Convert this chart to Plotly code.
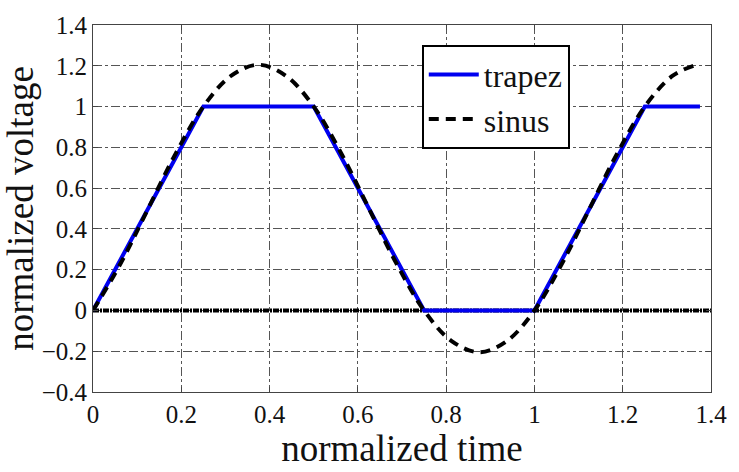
import plotly.graph_objects as go

# Data
trapez_t = [0.0, 0.25, 0.5, 0.75, 1.0, 1.25, 1.375]
trapez_v = [0.0, 1.0, 1.0, 0.0, 0.0, 1.0, 1.0]

sinus_t = [0.0, 0.0625, 0.125, 0.1875, 0.25, 0.3125, 0.375, 0.4375, 0.5,
           0.5625, 0.625, 0.6875, 0.75, 0.8125, 0.875, 0.9375, 1.0,
           1.0625, 1.125, 1.1875, 1.25, 1.3125, 1.36]
sinus_v = [0.0, 0.23, 0.5, 0.77, 1.0, 1.15, 1.205, 1.15, 1.0,
           0.77, 0.5, 0.23, 0.0, -0.15, -0.205, -0.15, 0.0,
           0.23, 0.5, 0.77, 1.0, 1.15, 1.2]

zero_t = [0.0, 1.4]
zero_v = [0.0, 0.0]

xticks = [0, 0.2, 0.4, 0.6, 0.8, 1, 1.2, 1.4]
xtick_labels = ["0", "0.2", "0.4", "0.6", "0.8", "1", "1.2", "1.4"]
yticks = [-0.4, -0.2, 0, 0.2, 0.4, 0.6, 0.8, 1, 1.2, 1.4]
ytick_labels = ["\u22120.4", "\u22120.2", "0", "0.2", "0.4", "0.6", "0.8", "1", "1.2", "1.4"]

FONT = "Times New Roman"
INK = "#111111"

fig = go.Figure()
fig.add_trace(go.Scatter(x=zero_t, y=zero_v, mode="lines", showlegend=False,
                         line=dict(color="black", width=4, dash="6px,1px,2px,1px"),
                         hoverinfo="skip"))
fig.add_trace(go.Scatter(x=trapez_t, y=trapez_v, mode="lines", name="trapez",
                         line=dict(color="#0000f0", width=4)))
fig.add_trace(go.Scatter(x=sinus_t, y=sinus_v, mode="lines", name="sinus",
                         line=dict(color="black", width=4, dash="10px,7px", shape="spline")))

fig.update_layout(
    width=739, height=472,
    margin=dict(l=93, r=24, t=18, b=73),
    paper_bgcolor="white", plot_bgcolor="white",
    xaxis=dict(
        range=[0, 1.4], tickvals=xticks, ticktext=xtick_labels,
        showline=True, linecolor="#444", linewidth=1, mirror="ticks",
        ticks="inside", ticklen=5, tickcolor="#444",
        showgrid=True, gridcolor="#555", gridwidth=1, griddash="dashdot",
        zeroline=False,
        tickfont=dict(family=FONT, size=25, color=INK),
        title=dict(text="normalized time", font=dict(family=FONT, size=37, color=INK), standoff=6),
    ),
    yaxis=dict(
        range=[-0.4, 1.4], tickvals=yticks, ticktext=ytick_labels,
        showline=True, linecolor="#444", linewidth=1, mirror="ticks",
        ticks="inside", ticklen=5, tickcolor="#444",
        showgrid=True, gridcolor="#555", gridwidth=1, griddash="dashdot",
        zeroline=False,
        tickfont=dict(family=FONT, size=25, color=INK),
        title=dict(text="normalized voltage", font=dict(family=FONT, size=37, color=INK), standoff=0),
    ),
    legend=dict(x=0.532, y=0.945, xanchor="left", yanchor="top",
                bgcolor="white", bordercolor="black", borderwidth=2,
                font=dict(family=FONT, size=32, color=INK),
                tracegroupgap=0, itemwidth=50),
    showlegend=True,
)

fig.write_html("out.html")
